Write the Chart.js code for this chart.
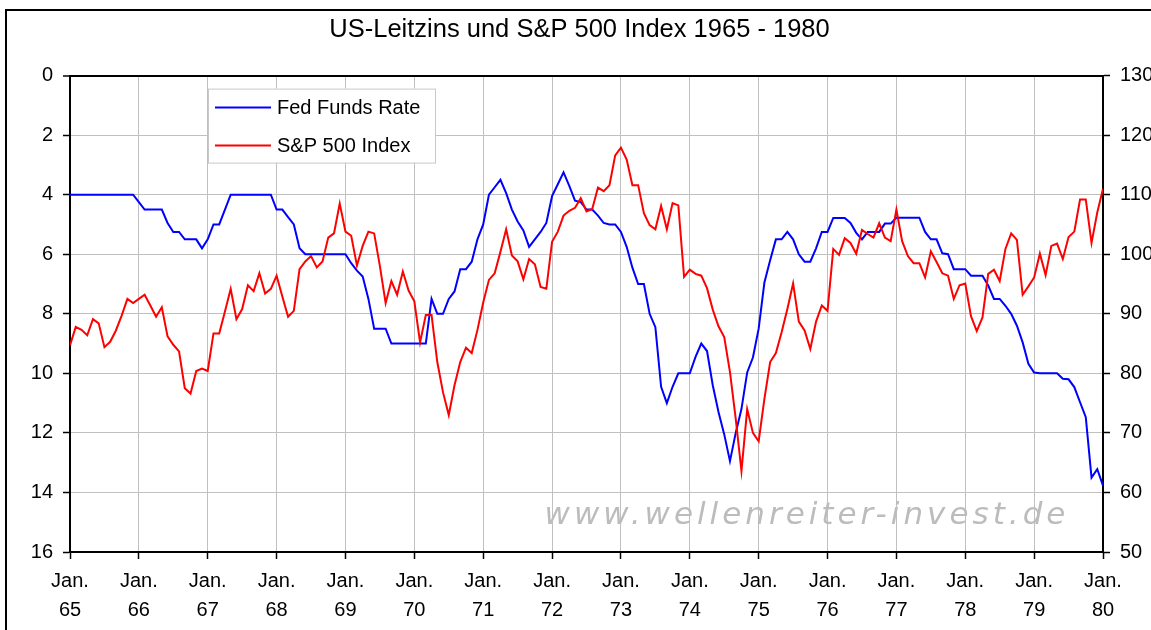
<!DOCTYPE html>
<html>
<head>
<meta charset="utf-8">
<title>US-Leitzins und S&amp;P 500 Index 1965 - 1980</title>
<script src="https://cdn.jsdelivr.net/npm/chart.js@4.4.1/dist/chart.umd.min.js"></script>
<style>
  html, body { margin: 0; padding: 0; background: #fff; }
  canvas { display: block; }
</style>
</head>
<body>
<canvas id="chart" width="1151" height="630"></canvas>
<script>
// Jahre (Januar-Ticks) und Monatswerte Jan. 1965 - Jan. 1980
const yearLabels = ["65", "66", "67", "68", "69", "70", "71", "72", "73", "74", "75", "76", "77", "78", "79", "80"];

// Fed Funds Rate in % (linke Achse, invertiert)
const fedFunds = [
    4, 4, 4, 4, 4, 4, 4, 4, 4, 4, 4, 4,
    4.25, 4.5, 4.5, 4.5, 4.5,
    4.95, 5.25, 5.25, 5.5, 5.5, 5.5, 5.8, 5.5, 5.0, 5.0, 4.5,
    4, 4, 4, 4, 4, 4, 4, 4,
    4.5, 4.5, 4.75, 5.0, 5.8,
    6, 6, 6, 6, 6, 6, 6, 6,
    6.3, 6.55, 6.75, 7.5, 8.5, 8.5, 8.5,
    9, 9, 9, 9, 9, 9, 9,
    7.5, 8.0, 8.0, 7.5, 7.25, 6.5, 6.5, 6.25, 5.5, 5.0,
    4.0, 3.75, 3.5, 3.95, 4.5, 4.9, 5.2, 5.75, 5.5, 5.25,
    4.95, 4.05, 3.65, 3.25, 3.7, 4.2, 4.25, 4.5, 4.5, 4.7,
    4.95, 5.0, 5.0, 5.25, 5.75, 6.45, 7.0, 7.0, 8.0, 8.45,
    10.45, 11.0, 10.45, 10.0, 10.0, 10.0, 9.45, 9.0, 9.25, 10.4,
    11.3, 12.05, 12.95, 12.0, 11.2, 9.97, 9.47, 8.5, 6.95, 6.2,
    5.5, 5.5, 5.25, 5.5, 6.0, 6.25, 6.25, 5.8, 5.25, 5.25,
    4.78, 4.78, 4.78, 4.95, 5.28, 5.5, 5.25, 5.25, 5.25, 4.97, 4.97,
    4.77, 4.77, 4.77, 4.77, 4.77,
    5.25, 5.5, 5.5, 5.97, 6.0, 6.5, 6.5, 6.5, 6.72, 6.72,
    6.72, 7.05, 7.5, 7.5, 7.73, 8.0, 8.4, 8.96, 9.68, 9.97,
    10, 10, 10, 10,
    10.18, 10.2, 10.46, 10.97, 11.47, 13.5, 13.22, 13.77
];

// S&P 500 Index (rechte Achse)
const spIndex = [
    84.7, 87.8, 87.3, 86.4, 89.1, 88.4, 84.4, 85.3, 87.2, 89.7,
    92.5, 91.8, 92.5, 93.2, 91.4, 89.5, 91.1, 86.2, 84.8, 83.7,
    77.5, 76.6, 80.4, 80.8, 80.4, 86.7, 86.7, 90.4, 94.2, 89.1,
    90.8, 94.8, 93.8, 96.8, 93.4, 94.2, 96.4, 92.9, 89.5, 90.5,
    97.5, 98.8, 99.7, 97.8, 98.8, 102.8, 103.5, 108.5, 103.8, 103.1,
    98.1, 101.4, 103.8, 103.5, 98.0, 91.8, 95.5, 93.2, 97.1, 93.9,
    92.1, 85.2, 89.8, 89.8, 81.9, 76.8, 73.0, 78.0, 81.9, 84.3,
    83.4, 87.3, 91.9, 95.7, 96.8, 100.4, 104.2, 99.8, 98.8, 95.8,
    99.2, 98.3, 94.5, 94.2, 102.1, 103.8, 106.5, 107.3, 107.8, 109.4,
    107.2, 107.6, 111.2, 110.6, 111.6, 116.6, 117.9, 115.9, 111.6, 111.6,
    106.9, 104.9, 104.2, 108.1, 104.2, 108.6, 108.2, 96.2, 97.4, 96.7,
    96.4, 94.3, 90.7, 87.9, 86.1, 80.2, 72.4, 63.6, 74.0, 70.0,
    68.6, 75.7, 81.9, 83.4, 86.9, 90.8, 95.1, 88.7, 87.2, 84.1,
    88.7, 91.4, 90.5, 100.9, 99.9, 102.7, 101.9, 100.1, 104.1, 103.4,
    102.8, 105.2, 102.8, 102.2, 107.5, 102.2, 99.7, 98.5, 98.5, 96.1,
    100.5, 98.7, 96.8, 96.4, 92.5, 94.8, 95.1, 89.6, 87.1, 89.4,
    96.7, 97.4, 95.5, 100.9, 103.5, 102.4, 93.2, 94.6, 96.1, 100.1,
    96.5, 101.4, 101.8, 99.2, 102.9, 103.8, 109.2, 109.2, 101.9, 107.0, 111.0
];

const FONT = "'Liberation Sans', Arial, sans-serif";
const GRID = "#c0c0c0";

Chart.defaults.color = "#000";
Chart.defaults.font.family = FONT;

// Rahmen, Legende und Wasserzeichen wie im Excel-Original
const excelDecor = {
    id: "excelDecor",
    beforeDraw(chart) {
        const ctx = chart.ctx;
        ctx.save();
        ctx.fillStyle = "#fff";
        ctx.fillRect(0, 0, chart.width, chart.height);
        ctx.strokeStyle = "#000";
        ctx.lineWidth = 2;
        ctx.strokeRect(6, 10, chart.width + 20, chart.height + 20);
        ctx.restore();
    },
    beforeDatasetsDraw(chart) {
        const ctx = chart.ctx, a = chart.chartArea;
        ctx.save();
        ctx.font = "oblique 31px 'DejaVu Sans', sans-serif";
        ctx.fillStyle = "#bcbcbc";
        ctx.letterSpacing = "4px";
        ctx.textAlign = "center";
        ctx.textBaseline = "middle";
        ctx.fillText("www.wellenreiter-invest.de", a.right - 296, a.bottom - 36);
        ctx.restore();
    },
    afterDatasetsDraw(chart) {
        const ctx = chart.ctx, a = chart.chartArea;
        const x = a.left + 138, y = a.top + 13, w = 227, h = 74;
        ctx.save();
        ctx.fillStyle = "#fff";
        ctx.fillRect(x, y, w, h);
        ctx.strokeStyle = "#c8c8c8";
        ctx.lineWidth = 1;
        ctx.strokeRect(x + 0.5, y + 0.5, w, h);
        ctx.font = "20px " + FONT;
        ctx.textBaseline = "middle";
        ctx.fillStyle = "#000";
        chart.data.datasets.forEach((ds, i) => {
            const ly = y + 19 + i * 38;
            ctx.strokeStyle = ds.borderColor;
            ctx.lineWidth = 2;
            ctx.beginPath();
            ctx.moveTo(x + 7, ly);
            ctx.lineTo(x + 63, ly);
            ctx.stroke();
            ctx.fillText(ds.label, x + 69, ly + 1);
        });
        ctx.restore();
    }
};

new Chart(document.getElementById("chart").getContext("2d"), {
    type: "line",
    data: {
        datasets: [
            {
                label: "Fed Funds Rate",
                data: fedFunds.map((v, i) => ({ x: i, y: v })),
                borderColor: "#0000ff",
                borderWidth: 2,
                pointRadius: 0,
                yAxisID: "y",
                order: 1,
            },
            {
                label: "S&P 500 Index",
                data: spIndex.map((v, i) => ({ x: i, y: v })),
                borderColor: "#ff0000",
                borderWidth: 2,
                pointRadius: 0,
                yAxisID: "y1",
                order: 0,
            },
        ],
    },
    options: {
        responsive: false,
        animation: false,
        devicePixelRatio: 1,
        layout: { padding: { left: 8, right: 0, top: 0, bottom: 0 } },
        plugins: {
            legend: { display: false },
            tooltip: { enabled: false },
            title: {
                display: true,
                text: "US-Leitzins und S&P 500 Index 1965 - 1980",
                color: "#000",
                font: { size: 25.5, family: FONT, weight: "normal", lineHeight: 1.2 },
                padding: { top: 15, bottom: 30 },
            },
        },
        scales: {
            x: {
                type: "linear",
                min: 0,
                max: (yearLabels.length - 1) * 12,
                afterFit: (s) => { s.height = 78; },
                border: { color: "#000", width: 2 },
                grid: { color: GRID, lineWidth: 1, tickColor: "#000", tickLength: 7, tickWidth: 1.5 },
                ticks: {
                    stepSize: 12,
                    autoSkip: false,
                    maxRotation: 0,
                    padding: 8,
                    font: { size: 20, lineHeight: 1.45 },
                    callback: (v) => ["Jan.", yearLabels[v / 12]],
                },
            },
            y: {
                position: "left",
                reverse: true,
                min: 0,
                max: 16,
                afterFit: (s) => { s.width = 62; },
                border: { color: "#000", width: 2 },
                grid: {
                    color: (c) => (c.tick && c.tick.value === 0 ? "#000" : GRID),
                    lineWidth: (c) => (c.tick && c.tick.value === 0 ? 2 : 1),
                    tickColor: "#000",
                    tickLength: 7,
                    tickWidth: 1.5,
                },
                ticks: { stepSize: 2, padding: 10, font: { size: 20 } },
            },
            y1: {
                position: "right",
                min: 50,
                max: 130,
                afterFit: (s) => { s.width = 48; },
                border: { color: "#000", width: 2 },
                grid: { drawOnChartArea: false, tickColor: "#000", tickLength: 7, tickWidth: 1.5 },
                ticks: { stepSize: 10, padding: 10, font: { size: 20 } },
            },
        },
    },
    plugins: [excelDecor],
});
</script>
</body>
</html>
